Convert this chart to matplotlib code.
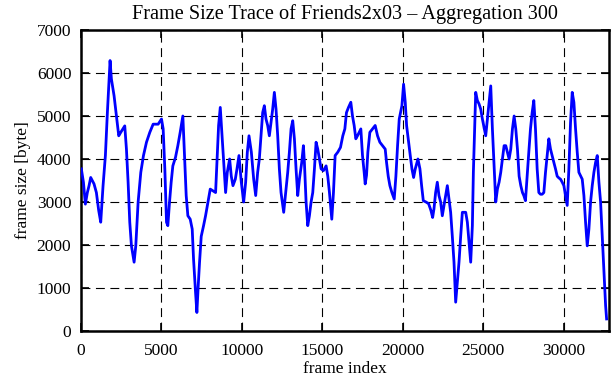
import numpy as np
import matplotlib
matplotlib.use('Agg')
import matplotlib.pyplot as plt

plt.rcParams['font.family'] = ['Liberation Serif', 'DejaVu Serif']
plt.rcParams['font.size'] = 12.5

# frame index / frame size [byte], in pieces
frames_a = [20, 150, 270, 394, 500, 602, 700, 809, 955, 1100,
            1225, 1370, 1515, 1640, 1806, 1889, 2055, 2200, 2345, 2470,
            2719, 2823, 2927, 3030, 3134, 3300, 3404, 3550, 3716, 3882,
            4069, 4276, 4484, 4795, 5003, 5106, 5210, 5314]
sizes_a = [3770, 3460, 2950, 3220, 3380, 3570, 3500, 3420, 3220, 2800,
           2530, 3380, 4080, 5090, 6290, 5860, 5470, 5000, 4540, 4620,
           4770, 4230, 3460, 2530, 1980, 1600, 1980, 3000, 3690, 4080,
           4390, 4620, 4810, 4810, 4930, 4700, 3770, 2530]

frames_b = [5397, 5500, 5604, 5708, 5874, 6019, 6164, 6330, 6434, 6538,
            6642, 6787, 6912, 6995, 7119, 7202, 7285, 7368, 7472, 7618,
            7742, 7887, 8033, 8199, 8365, 8448, 8552, 8656, 8739, 8864,
            8988, 9092, 9238, 9341, 9445, 9591, 9695, 9819, 9964, 10110,
            10234, 10338, 10442, 10588, 10733, 10858]
sizes_b = [2450, 2990, 3460, 3840, 4040, 4310, 4620, 5000, 4080, 3150,
           2680, 2600, 2370, 1670, 900, 430, 1050, 1600, 2200, 2450,
           2680, 2990, 3300, 3260, 3220, 3920, 4780, 5200, 4700, 3920,
           3220, 3690, 4000, 3600, 3380, 3530, 3770, 4080, 3460, 3000,
           3460, 4160, 4540, 4160, 3530, 3150]

frames_c = [10980, 11084, 11188, 11292, 11396, 11499, 11603, 11707, 11811, 11914,
            12018, 12122, 12226, 12329, 12433, 12599, 12745, 12849, 12952, 13056,
            13160, 13264, 13367, 13471, 13575, 13720, 13824, 13886, 13990, 14094,
            14197, 14301, 14405, 14509, 14612, 14716, 14820, 14924, 15069, 15235,
            15339, 15443, 15588, 15692, 15796, 15962, 16128, 16274]
sizes_c = [3690, 4000, 4540, 5080, 5240, 4930, 4780, 4540, 4850, 5160,
           5550, 5160, 4540, 3770, 3220, 2760, 3300, 3690, 4160, 4700,
           4890, 4470, 3770, 3150, 3530, 3920, 4310, 3920, 3000, 2450,
           2680, 3000, 3220, 3770, 4390, 4230, 4000, 3770, 3730, 3840,
           3600, 3220, 2600, 3220, 4080, 4160, 4270, 4540]

frames_d = [16400, 16501, 16626, 16771, 16875, 16979, 17082, 17186, 17290, 17394,
            17497, 17601, 17664, 17747, 17830, 17954, 18120, 18286, 18432, 18577,
            18743, 18909, 18992, 19096, 19200, 19324, 19470, 19573, 19677, 19781,
            19947, 20051, 20155, 20238, 20362, 20466, 20570, 20674, 20777, 20943,
            21068, 21172, 21276, 21442, 21608, 21753, 21857]
sizes_d = [4700, 5080, 5200, 5320, 5000, 4780, 4470, 4540, 4620, 4700,
           4080, 3690, 3420, 3620, 4160, 4620, 4700, 4780, 4540, 4390,
           4310, 4230, 3920, 3600, 3380, 3220, 3070, 3600, 4310, 4930,
           5240, 5740, 5320, 4780, 4390, 4080, 3770, 3570, 3770, 4000,
           3770, 3380, 3030, 3000, 2960, 2800, 2640]

frames_e = [21940, 22043, 22147, 22251, 22355, 22458, 22562, 22666, 22770, 22874,
            22977, 23081, 23185, 23289, 23393, 23496, 23600, 23704, 23808, 23912,
            24015, 24119, 24223, 24327, 24389, 24472, 24535, 24638, 24742, 24846,
            24950, 25053, 25157, 25261, 25365, 25469, 25572, 25676, 25780, 25884,
            25988, 26091, 26195, 26299, 26403, 26506, 26610, 26714, 26818, 26922,
            27025, 27129, 27233, 27337, 27440]
sizes_e = [2840, 3220, 3460, 3150, 3000, 2680, 2920, 3150, 3380, 3070,
           2760, 2200, 1600, 670, 1130, 1600, 2200, 2760, 2760, 2760,
           2530, 2060, 1600, 2450, 3690, 4700, 5550, 5360, 5280, 5160,
           4930, 4740, 4540, 4930, 5320, 5700, 4700, 3840, 3000, 3300,
           3460, 3690, 4000, 4310, 4310, 4160, 4000, 4230, 4700, 5000,
           4700, 4230, 3600, 3380, 3220]

frames_f = [27524, 27627, 27731, 27835, 27939, 28043, 28146, 28250, 28354, 28458,
            28561, 28665, 28769, 28873, 28977, 29080, 29184, 29288, 29392, 29495,
            29599, 29703, 29807, 29911, 30014, 30118, 30222, 30326, 30429, 30533,
            30637, 30741, 30845, 30948, 31052, 31156, 31260, 31363, 31467, 31571,
            31675, 31778, 31882, 31986, 32090, 32193, 32297, 32401, 32505, 32609,
            32671]
sizes_f = [3150, 3030, 3600, 4160, 4700, 5080, 5360, 4700, 3770, 3220,
           3180, 3180, 3220, 3690, 4080, 4470, 4230, 4080, 3920, 3770,
           3600, 3560, 3530, 3460, 3380, 3150, 2920, 3770, 4850, 5550,
           5320, 4700, 4160, 3690, 3610, 3530, 3150, 2530, 1980, 2370,
           3000, 3380, 3690, 3920, 4080, 3460, 3000, 2200, 1360, 590,
           280]

frames = frames_a + frames_b + frames_c + frames_d + frames_e + frames_f
sizes = sizes_a + sizes_b + sizes_c + sizes_d + sizes_e + sizes_f

fig = plt.figure(figsize=(6.11, 3.80), dpi=100)
ax = fig.add_axes([0.1326, 0.129, 0.8636, 0.792])

ax.plot(frames, sizes, color='#0000ff', lw=2.0, zorder=3)

ax.set_xlim(0, 32800)
ax.set_ylim(0, 7000)
ax.set_xticks(np.arange(0, 32800, 5000))
ax.set_yticks(np.arange(0, 7001, 1000))

ax.grid(True, color='black', lw=0.8, linestyle=(0, (8, 5)), zorder=1)
ax.tick_params(direction='in', length=5.5, width=1.2, top=True, right=True)
ax.tick_params(axis='x', pad=9)
ax.tick_params(axis='y', pad=7)
for s in ax.spines.values():
    s.set_linewidth(1.8)

ax.set_title('Frame Size Trace of Friends2x03 \u2013 Aggregation 300', fontsize=14.6, pad=8)
ax.set_xlabel('frame index', labelpad=1)
ax.set_ylabel('frame size [byte]', labelpad=4)

fig.savefig('out.png', dpi=100)
